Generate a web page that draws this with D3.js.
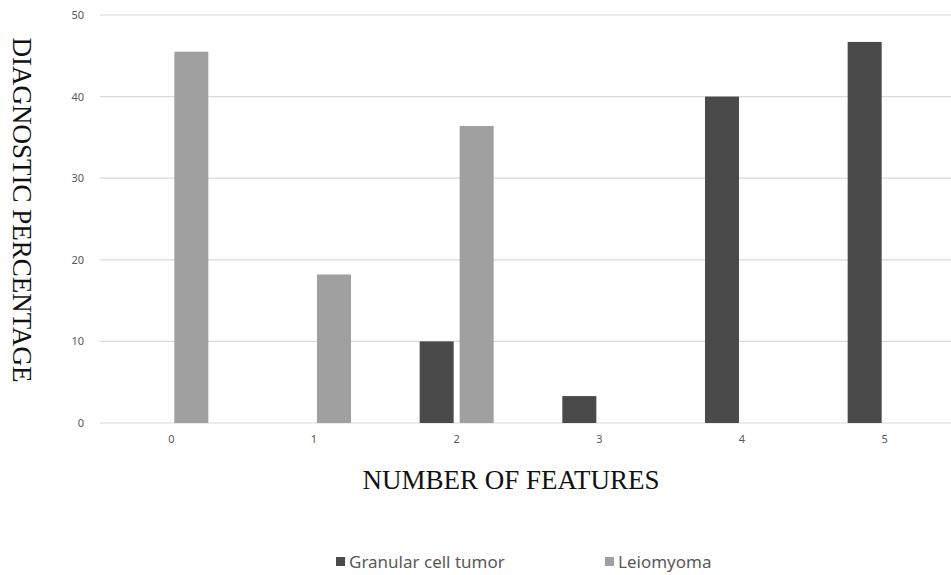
<!DOCTYPE html>
<html><head><meta charset="utf-8">
<script src="https://cdn.jsdelivr.net/npm/d3@7"></script>
<style>body{margin:0;background:#fff}svg{display:block}</style>
</head><body>
<script>
const categories = ["0","1","2","3","4","5"];
const seriesNames = ["Granular cell tumor","Leiomyoma"];
const granular = [0, 0, 10, 3.3, 40, 46.7];
const leiomyoma = [45.5, 18.2, 36.4, 0, 0, 0];
const yTicks = [0,10,20,30,40,50];
const colors = ["#4a4a4a","#a0a0a0"];

const W=951,H=575;
const svg=d3.select("body").append("svg").attr("width",W).attr("height",H);
const x=d3.scaleBand().domain(categories).range([100,956]);
const y=d3.scaleLinear().domain([0,50]).range([423,15]);
const sub=d3.scaleBand().domain(seriesNames).range([-37,37]).paddingInner(0.15);

// gridlines
svg.append("g").selectAll("line").data(yTicks).join("line")
 .attr("x1",100).attr("x2",951).attr("y1",d=>y(d)).attr("y2",d=>y(d))
 .attr("stroke","#d9d9d9").attr("stroke-width",1.2);

// y axis labels
const ya=svg.append("g").attr("transform","translate(84,0)")
 .call(d3.axisLeft(y).tickValues(yTicks).tickSize(0).tickPadding(0));
ya.select(".domain").remove();
ya.selectAll("text").attr("font-family","'Noto Sans',sans-serif").attr("font-size",11).attr("fill","#595959");

// x axis labels
const xa=svg.append("g").attr("transform","translate(0,431)")
 .call(d3.axisBottom(x).tickSize(0).tickPadding(4));
xa.select(".domain").remove();
xa.selectAll("text").attr("font-family","'Noto Sans',sans-serif").attr("font-size",11).attr("fill","#595959");

const series=[granular,leiomyoma];
series.forEach((vals,si)=>{
  svg.append("g").selectAll("rect").data(vals.map((v,i)=>({c:categories[i],v})).filter(d=>d.v>0)).join("rect")
   .attr("x",d=>x(d.c)+x.bandwidth()/2+sub(seriesNames[si]))
   .attr("width",sub.bandwidth())
   .attr("y",d=>y(d.v)).attr("height",d=>y(0)-y(d.v))
   .attr("fill",colors[si]);
});

// axis titles
svg.append("text").attr("x",511).attr("y",489).attr("text-anchor","middle")
 .attr("font-family","'Liberation Serif','Times New Roman',serif").attr("font-size",27).attr("fill","#111")
 .text("NUMBER OF FEATURES");
svg.append("text").attr("transform","translate(13,210) rotate(90)").attr("text-anchor","middle")
 .attr("font-family","'Liberation Serif','Times New Roman',serif").attr("font-size",27).attr("fill","#111")
 .text("DIAGNOSTIC PERCENTAGE");

// legend
const legX=[336,605];
seriesNames.forEach((n,i)=>{
  svg.append("rect").attr("x",legX[i]).attr("y",557).attr("width",9).attr("height",9).attr("fill",colors[i]);
  svg.append("text").attr("x",legX[i]+13).attr("y",568).attr("font-family","'Noto Sans',sans-serif")
   .attr("font-size",17).attr("fill","#595959").text(n);
});
</script>
</body></html>
